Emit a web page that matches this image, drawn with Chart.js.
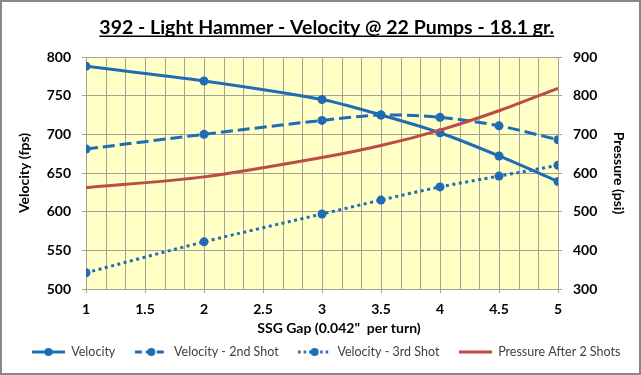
<!DOCTYPE html>
<html>
<head>
<meta charset="utf-8">
<script src="https://cdn.jsdelivr.net/npm/chart.js@4.4.1/dist/chart.umd.min.js"></script>
<style>
  html, body { margin: 0; padding: 0; background: #fff; }
  #wrap { width: 641px; height: 375px; }
</style>
</head>
<body>
<div id="wrap"><canvas id="myChart" width="641" height="375"></canvas></div>
<script>
// data
const gaps = [1, 2, 3, 3.5, 4, 4.5, 5];
const velocity = [788, 769, 745, 725, 702, 672, 639];
const velocity2 = [681, 700, 718, 725, 722, 711, 693];
const velocity3 = [521, 561, 597, 615, 632, 646, 660];
const pressure = [562, 590, 640, 671, 711, 761, 819];

const seriesNames = ['Velocity', 'Velocity - 2nd Shot', 'Velocity - 3rd Shot', 'Pressure After 2 Shots'];
const chartTitle = '392 - Light Hammer - Velocity @ 22 Pumps - 18.1 gr.';
const xTitle = 'SSG Gap (0.042"  per turn)';

const BLUE = '#1f6bb6';
const RED = '#bd4b47';
const GRID = '#a3a394';
const FONT = 'Lato';

const pts = (ys) => gaps.map((x, i) => ({ x: x, y: ys[i] }));

// little line+marker picture for the legend
function swatch(color, dash, marker) {
  const c = document.createElement('canvas');
  c.width = 33;
  c.height = 10;
  const g = c.getContext('2d');
  g.strokeStyle = color;
  g.lineWidth = 3;
  g.setLineDash(dash);
  g.beginPath();
  g.moveTo(0, 5);
  g.lineTo(33, 5);
  g.stroke();
  if (marker) {
    g.fillStyle = color;
    g.beginPath();
    g.arc(16.5, 5, 4, 0, Math.PI * 2);
    g.fill();
  }
  return c;
}

const bgPlugin = {
  id: 'bg',
  beforeDraw(chart) {
    const { ctx, chartArea: a } = chart;
    ctx.save();
    ctx.fillStyle = '#ffffff';
    ctx.fillRect(0, 0, chart.width, chart.height);
    ctx.fillStyle = '#ffffc6';
    ctx.fillRect(a.left, a.top, a.right - a.left, a.bottom - a.top);
    ctx.restore();
  },
  beforeDatasetsDraw(chart) {
    // minor vertical gridlines, six per unit
    const { ctx, chartArea: a, scales } = chart;
    const xs = scales.x;
    ctx.save();
    ctx.strokeStyle = GRID;
    ctx.lineWidth = 1;
    for (let i = 0; i <= 24; i++) {
      const px = Math.round(xs.getPixelForValue(1 + i / 6)) + 0.5;
      ctx.beginPath();
      ctx.moveTo(px, a.top);
      ctx.lineTo(px, a.bottom);
      ctx.stroke();
    }
    // tick marks under the x axis at the labelled values
    xs.ticks.forEach(t => {
      const px = Math.round(xs.getPixelForValue(t.value)) + 0.5;
      ctx.beginPath();
      ctx.moveTo(px, a.bottom);
      ctx.lineTo(px, a.bottom + 4);
      ctx.stroke();
    });
    ctx.restore();
  },
  afterDraw(chart) {
    const { ctx, chartArea: a } = chart;
    ctx.save();
    // underline the title
    const t = chart.titleBlock;
    ctx.font = 'bold 19.5px ' + FONT;
    const w = ctx.measureText(chartTitle).width;
    const cx = (t.left + t.right) / 2;
    const cy = t.top + 16 + 11.7;
    ctx.strokeStyle = '#000';
    ctx.lineWidth = 1.6;
    ctx.beginPath();
    ctx.moveTo(cx - w / 2, cy + 8.5);
    ctx.lineTo(cx + w / 2, cy + 8.5);
    ctx.stroke();
    // x axis title, sits a little right of centre as in the original
    ctx.font = 'bold 14px ' + FONT;
    ctx.fillStyle = '#000';
    ctx.textAlign = 'center';
    ctx.textBaseline = 'middle';
    ctx.fillText(xTitle, (a.left + a.right) / 2 + 17, a.bottom + 39);
    // outer frame
    ctx.strokeStyle = '#888888';
    ctx.lineWidth = 2;
    ctx.strokeRect(1, 1, chart.width - 2, chart.height - 2);
    ctx.restore();
  }
};

const data = {
  datasets: [
    {
      label: seriesNames[0],
      data: pts(velocity),
      yAxisID: 'y',
      borderColor: BLUE,
      backgroundColor: BLUE,
      borderWidth: 3,
      pointRadius: 4.5,
      pointBorderWidth: 0,
      tension: 0.3,
      order: 2
    },
    {
      label: seriesNames[1],
      data: pts(velocity2),
      yAxisID: 'y',
      borderColor: BLUE,
      backgroundColor: BLUE,
      borderWidth: 3,
      borderDash: [12, 5],
      pointRadius: 4.5,
      pointBorderWidth: 0,
      tension: 0.3,
      order: 3
    },
    {
      label: seriesNames[2],
      data: pts(velocity3),
      yAxisID: 'y',
      borderColor: BLUE,
      backgroundColor: BLUE,
      borderWidth: 3,
      borderDash: [3, 3.5],
      pointRadius: 4.5,
      pointBorderWidth: 0,
      tension: 0.3,
      order: 4
    },
    {
      label: seriesNames[3],
      data: pts(pressure),
      yAxisID: 'y1',
      borderColor: RED,
      backgroundColor: RED,
      borderWidth: 3,
      pointRadius: 0,
      tension: 0.3,
      order: 1
    }
  ]
};

const swatches = [
  swatch(BLUE, [], true),
  swatch(BLUE, [7, 4], true),
  swatch(BLUE, [2.5, 3], true),
  swatch(RED, [], false)
];

const tickFont = { family: FONT, size: 14, weight: 'bold' };
const titleFont = { family: FONT, size: 14, weight: 'bold' };

const config = {
  type: 'line',
  data: data,
  options: {
    responsive: false,
    animation: false,
    layout: { padding: { left: 12.5, right: 0, top: 0, bottom: 6.75 } },
    scales: {
      x: {
        type: 'linear',
        min: 1,
        max: 5,
        afterFit: (s) => { s.height = 37.25; },
        ticks: {
          stepSize: 0.5,
          color: '#000',
          font: tickFont,
          padding: 12,
          callback: (v) => String(v)
        },
        grid: { display: false, drawTicks: false, tickLength: 0 },
        border: { display: false }
      },
      y: {
        position: 'left',
        min: 500,
        max: 800,
        afterFit: (s) => { s.width = 73.5; },
        ticks: { stepSize: 50, color: '#000', font: tickFont, padding: 11 },
        grid: { color: GRID, tickLength: 4 },
        border: { color: GRID },
        title: {
          display: true,
          text: 'Velocity (fps)',
          color: '#000',
          font: titleFont,
          padding: { top: 4, bottom: 0 }
        }
      },
      y1: {
        position: 'right',
        min: 300,
        max: 900,
        afterFit: (s) => { s.width = 83; },
        ticks: { stepSize: 100, color: '#000', font: tickFont, padding: 11 },
        grid: { drawOnChartArea: false, color: GRID, tickLength: 4 },
        border: { color: GRID },
        title: {
          display: true,
          text: 'Pressure (psi)',
          color: '#000',
          font: titleFont,
          padding: { top: 14.5, bottom: 0 }
        }
      }
    },
    plugins: {
      title: {
        display: true,
        text: chartTitle,
        color: '#000',
        font: { family: FONT, size: 19.5, weight: 'bold' },
        padding: { top: 16, bottom: 17.6 }
      },
      legend: {
        position: 'bottom',
        align: 'start',
        labels: {
          usePointStyle: true,
          pointStyleWidth: 33,
          padding: 19.5,
          color: '#404040',
          font: { family: FONT, size: 12.5 },
          generateLabels: (chart) => chart.data.datasets.map((ds, i) => ({
            text: ds.label,
            pointStyle: swatches[i],
            fillStyle: ds.borderColor,
            strokeStyle: ds.borderColor,
            lineWidth: 0,
            fontColor: '#404040',
            hidden: false,
            datasetIndex: i
          }))
        }
      },
      tooltip: { enabled: false }
    }
  },
  plugins: [bgPlugin]
};

const myChart = new Chart(document.getElementById('myChart'), config);
</script>
</body>
</html>
